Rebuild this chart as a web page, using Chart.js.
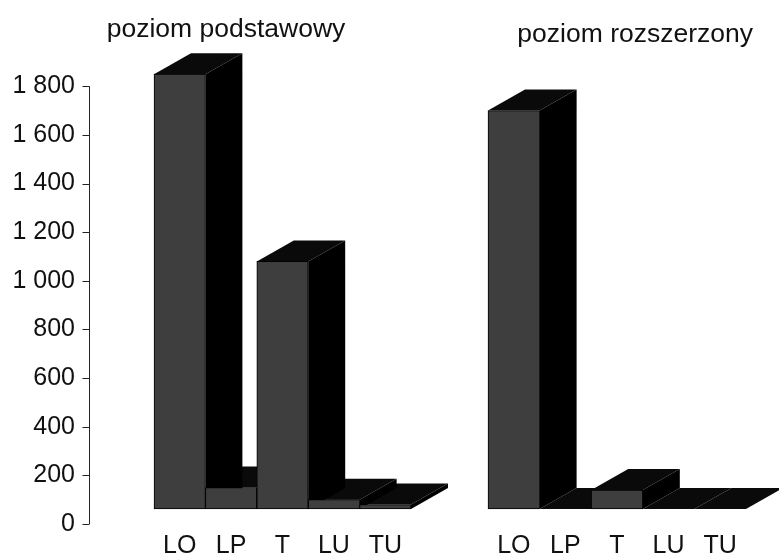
<!DOCTYPE html>
<html>
<head>
<meta charset="utf-8">
<title>poziom podstawowy / rozszerzony</title>
<script src="https://cdn.jsdelivr.net/npm/chart.js@4"></script>
<style>
    html, body { margin: 0; padding: 0; background: #fff; overflow: hidden; width: 779px; height: 554px; }
    canvas { position: absolute; top: 0; }
    #basicChart { left: 0; }
    #extendedChart { left: 470px; }
</style>
</head>
<body>
<canvas id="basicChart" width="452" height="554"></canvas>
<canvas id="extendedChart" width="330" height="554"></canvas>
<script>
const categories = ['LO', 'LP', 'T', 'LU', 'TU'];
const basicValues = [1850, 150, 1080, 100, 80];
const extendedValues = [1700, 62, 140, 62, 62];
const floorValue = 62;
const basicTitle = 'poziom podstawowy';
const extendedTitle = 'poziom rozszerzony';
const yMax = 1800;
const yStep = 200;

const fontFamily = '"Liberation Sans", Arial, sans-serif';
const depthX = 37;
const depthY = 21;

// Chart.js has no 3D bars any more, so the depth is drawn from each bar's own element
const depthPlugin = {
    id: 'depth',
    beforeDatasetsDraw(chart) {
        let ctx = chart.ctx;
        let bars = chart.getDatasetMeta(0).data;
        ctx.save();
        for (let i = bars.length - 1; i >= 0; i--) {
            let bar = bars[i];
            let left = bar.x - bar.width / 2;
            let right = bar.x + bar.width / 2;

            ctx.fillStyle = '#0a0a0a';
            ctx.beginPath();
            ctx.moveTo(left, bar.y);
            ctx.lineTo(left + depthX, bar.y - depthY);
            ctx.lineTo(right + depthX, bar.y - depthY);
            ctx.lineTo(right, bar.y);
            ctx.closePath();
            ctx.fill();

            ctx.fillStyle = '#000';
            ctx.beginPath();
            ctx.moveTo(right, bar.y);
            ctx.lineTo(right + depthX, bar.y - depthY);
            ctx.lineTo(right + depthX, bar.base - depthY);
            ctx.lineTo(right, bar.base);
            ctx.closePath();
            ctx.fill();
        }
        ctx.restore();
    }
};

// the value axis stands away from the bars, so its line is drawn apart from the scale box
const axisLinePlugin = {
    id: 'axisLine',
    afterDraw(chart) {
        let ctx = chart.ctx;
        let yScale = chart.scales.y;
        let axisX = 89.5;
        ctx.save();
        ctx.strokeStyle = '#222';
        ctx.lineWidth = 1;
        ctx.beginPath();
        ctx.moveTo(axisX, yScale.getPixelForValue(0));
        ctx.lineTo(axisX, yScale.getPixelForValue(yMax));
        yScale.ticks.forEach(function(tick) {
            let y = Math.round(yScale.getPixelForValue(tick.value)) + 0.5;
            ctx.moveTo(axisX, y);
            ctx.lineTo(axisX - 7, y);
        });
        ctx.stroke();
        ctx.restore();
    }
};

function formatTick(value) {
    return String(value).replace(/\B(?=(\d{3})+$)/, ' ');
}

function makeChart(id, title, values, opts) {
    let ctx = document.getElementById(id).getContext('2d');
    let scales = {
        x: {
            grid: { display: false, drawTicks: false },
            border: { display: false },
            afterFit(scale) {
                scale.height = 30;
            },
            ticks: {
                color: '#111',
                padding: 7,
                maxRotation: 0,
                autoSkip: false,
                font: { family: fontFamily, size: 25 }
            }
        },
        y: {
            display: opts.showAxis,
            position: opts.yPosition,
            min: 0,
            max: yMax,
            grid: { display: false, drawTicks: false },
            border: { display: false },
            afterFit(scale) {
                scale.width = opts.yWidth;
                scale.paddingTop = 0;
                scale.paddingBottom = 0;
            },
            ticks: {
                stepSize: yStep,
                color: '#111',
                padding: 79,
                font: { family: fontFamily, size: 25 },
                callback: formatTick
            }
        }
    };
    // keeps room for the depth on the right without moving the centered title
    if (opts.spacerWidth) {
        scales.spacer = {
            axis: 'y',
            display: false,
            position: 'right',
            afterFit(scale) {
                scale.width = opts.spacerWidth;
            }
        };
    }
    return new Chart(ctx, {
        type: 'bar',
        data: {
            labels: categories,
            datasets: [{
                data: values,
                base: floorValue,
                clip: false,
                backgroundColor: '#3e3e3e',
                borderColor: '#000',
                borderWidth: 1,
                borderSkipped: false,
                categoryPercentage: 1,
                barPercentage: 1
            }]
        },
        options: {
            responsive: false,
            animation: false,
            layout: {
                padding: opts.padding
            },
            plugins: {
                legend: { display: false },
                tooltip: { enabled: false },
                title: {
                    display: true,
                    text: title,
                    align: opts.titleAlign,
                    color: '#111',
                    font: { family: fontFamily, size: 26.5, weight: 'normal', lineHeight: 1.2 },
                    padding: opts.titlePadding
                }
            },
            scales: scales
        },
        plugins: opts.showAxis ? [depthPlugin, axisLinePlugin] : [depthPlugin]
    });
}

makeChart('basicChart', basicTitle, basicValues, {
    showAxis: true,
    yPosition: 'left',
    yWidth: 154,
    spacerWidth: 41,
    titleAlign: 'center',
    padding: 0,
    titlePadding: { top: 14, bottom: 40.5 }
});

makeChart('extendedChart', extendedTitle, extendedValues, {
    showAxis: false,
    yPosition: 'right',
    yWidth: 7,
    titleAlign: 'end',
    padding: { left: 18, right: 47 },
    titlePadding: { top: 19, bottom: 35.5 }
});
</script>
</body>
</html>
